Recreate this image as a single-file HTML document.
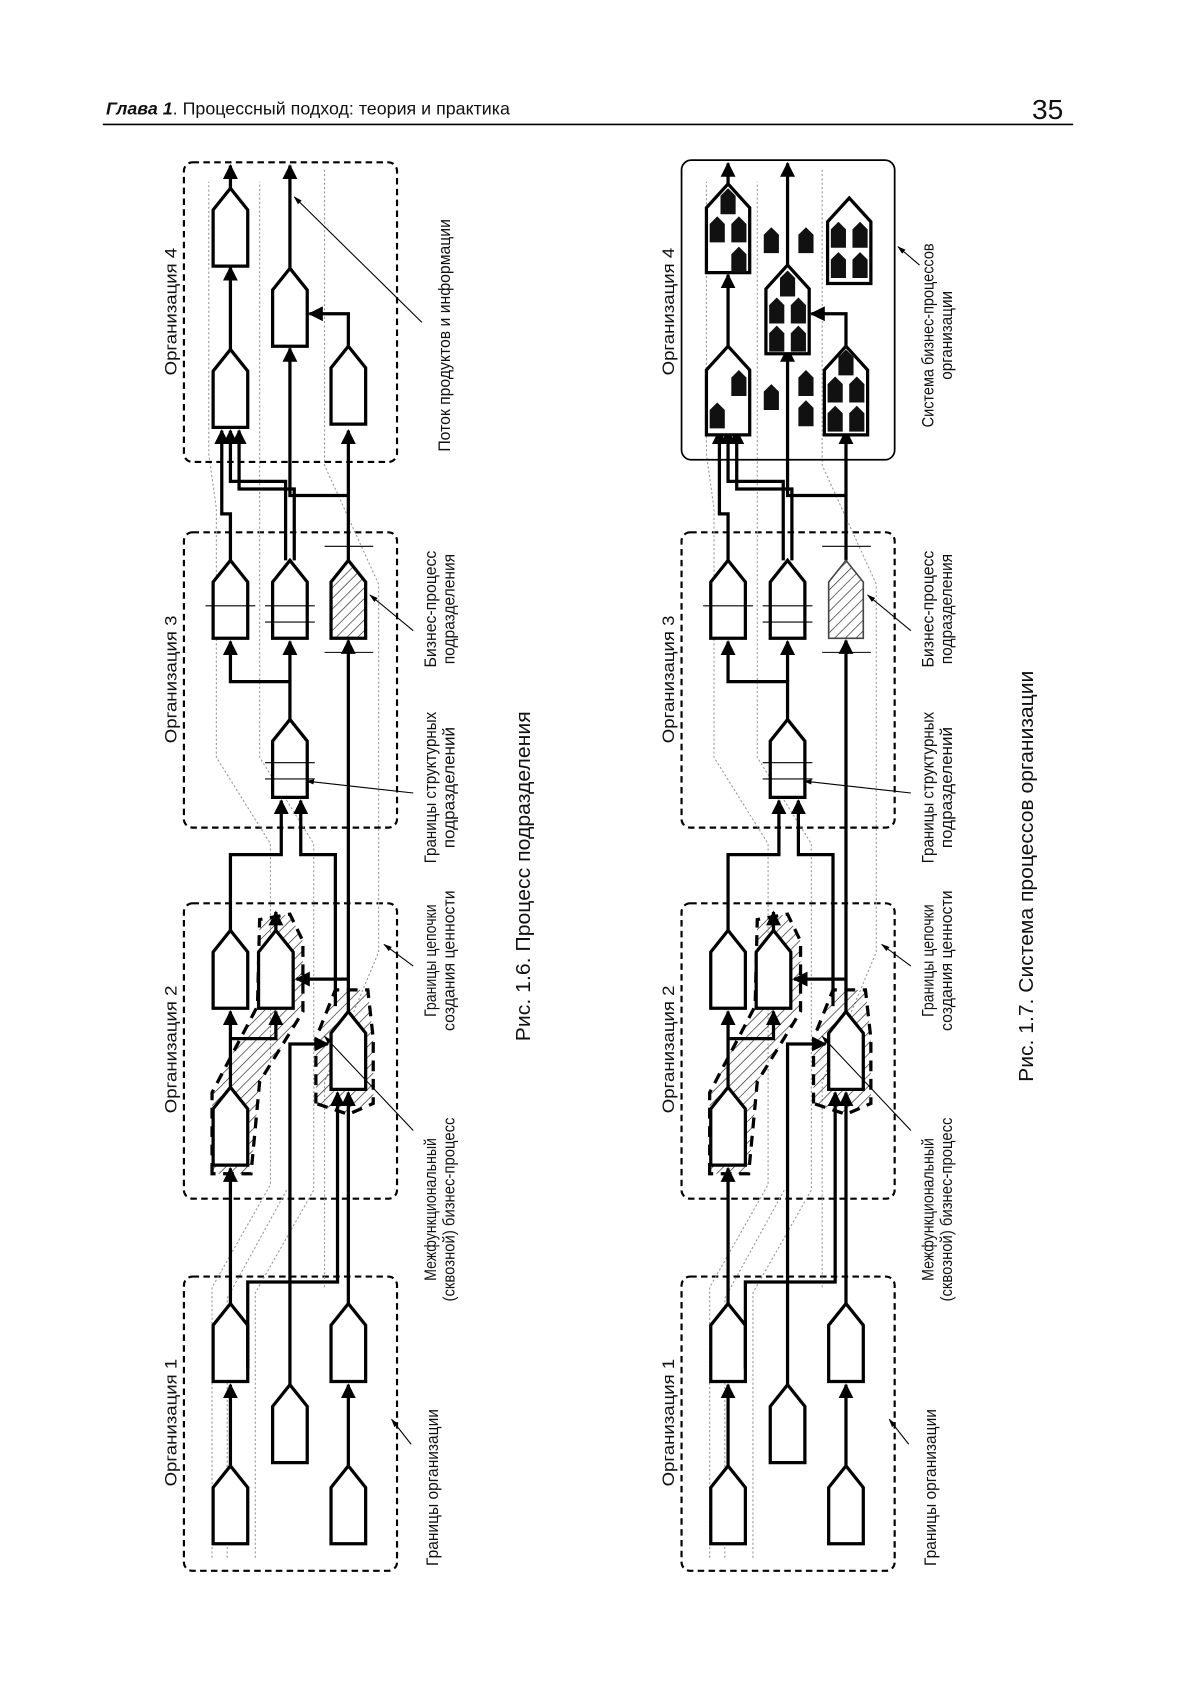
<!DOCTYPE html>
<html><head><meta charset="utf-8"><style>
html,body{margin:0;padding:0;background:#fff;}
svg{display:block;}
text{font-family:"Liberation Sans","Noto Sans CJK SC",sans-serif;fill:#111;}
</style></head><body>
<svg width="1190" height="1684" viewBox="0 0 1100 1556.6" xmlns="http://www.w3.org/2000/svg">
<defs>
<pattern id="h" width="7" height="7" patternUnits="userSpaceOnUse" patternTransform="rotate(45)">
<line x1="0" y1="0" x2="0" y2="7" stroke="#222" stroke-width="1.2"/></pattern>
<marker id="a" viewBox="0 0 10 10" refX="9" refY="5" markerWidth="4.6" markerHeight="4.6" orient="auto"><path d="M0,0L10,5L0,10Z" fill="#000"/></marker>
<marker id="s" viewBox="0 0 10 10" refX="9" refY="5" markerWidth="8" markerHeight="8" orient="auto"><path d="M0,2L10,5L0,8Z" fill="#000"/></marker>
<path id="p" d="M0,0L16,20L16,72L-16,72L-16,20Z" fill="#fff" stroke="#000" stroke-width="3" stroke-linejoin="miter"/>
<path id="ph" d="M0,0L16,20L16,72L-16,72L-16,20Z" fill="url(#h)" stroke="#000" stroke-width="3"/>
<path id="b" d="M0,0L7,7L7,24L-7,24L-7,7Z" fill="#111"/>
<g id="common">
 <g fill="none" stroke="#000" stroke-width="2" stroke-dasharray="6,4">
  <rect x="170" y="835" width="197" height="273" rx="8"/>
  <rect x="170" y="1180" width="197" height="272" rx="8"/>
  <rect x="170" y="492" width="197" height="273" rx="8"/>
 </g>
 <g fill="none" stroke="#999" stroke-width="1" stroke-dasharray="2,2">
  <polyline points="196,1440 196,1190 250,1095 250,780 200,700 200,470 193,420 193,168"/>
  <polyline points="236,1440 236,1195 290,1100 290,780 240,700 240,470 240,168"/>
  <polyline points="300,1190 300,1000 350,880 350,540 300,430 300,155"/>
  <polyline points="210,1440 210,1200 265,1100"/>
 </g>
 <g stroke="#000" stroke-width="3" stroke-dasharray="10,7" fill="url(#h)">
  <path d="M196,1085 L196,1010 L238,930 L240,850 L268,845 L280,870 L280,935 L240,1000 L232,1085 Z"/>
  <path d="M292,1020 L292,960 L310,915 L340,915 L345,960 L345,1020 L322,1030 Z"/>
 </g>
 <use href="#p" x="213" y="860"/><use href="#p" x="213" y="1005"/>
 <use href="#p" x="255" y="860"/><use href="#p" x="322" y="935"/>
 <use href="#p" x="213" y="1205"/><use href="#p" x="213" y="1355"/>
 <use href="#p" x="268" y="1280"/>
 <use href="#p" x="322" y="1205"/><use href="#p" x="322" y="1355"/>
 <use href="#p" x="213" y="518"/><use href="#p" x="268" y="518"/>
 <use href="#p" x="268" y="665"/>
 <g stroke="#000" stroke-width="1">
  <line x1="190" y1="560" x2="236" y2="560"/><line x1="245" y1="560" x2="291" y2="560"/><line x1="245" y1="575" x2="291" y2="575"/>
  <line x1="245" y1="705" x2="291" y2="705"/><line x1="245" y1="720" x2="291" y2="720"/>
  <line x1="300" y1="505" x2="345" y2="505"/><line x1="300" y1="603" x2="345" y2="603"/>
 </g>
 <g fill="none" stroke="#000" stroke-width="3">
  <polyline points="213,1355 213,1280" marker-end="url(#a)"/>
  <polyline points="322,1355 322,1280" marker-end="url(#a)"/>
  <polyline points="213,1205 213,1080" marker-end="url(#a)"/>
  <polyline points="229,1265 229,1185 312,1185 312,1010" marker-end="url(#a)"/>
  <polyline points="322,1205 322,1010" marker-end="url(#a)"/>
  <polyline points="268,1280 268,965 303,965" marker-end="url(#a)"/>
  <polyline points="213,1005 213,935" marker-end="url(#a)"/>
  <polyline points="213,960 255,960 255,935" marker-end="url(#a)"/>
  <polyline points="255,860 255,843" marker-end="url(#a)"/>
  <polyline points="322,935 322,592" marker-end="url(#a)"/>
  <polyline points="322,905 274,905" marker-end="url(#a)"/>
  <polyline points="213,860 213,790 260,790 260,740" marker-end="url(#a)"/>
  <polyline points="310,930 310,790 278,790 278,740" marker-end="url(#a)"/>
  <polyline points="268,665 268,630 213,630 213,593" marker-end="url(#a)"/>
  <polyline points="268,630 268,593" marker-end="url(#a)"/>
  <polyline points="213,518 213,475 205,475 205,398" marker-end="url(#a)"/>
  <polyline points="264,518 264,445 213,445 213,398" marker-end="url(#a)"/>
  <polyline points="272,518 272,452 221,452 221,398" marker-end="url(#a)"/>
  <polyline points="322,518 322,398" marker-end="url(#a)"/>
  <polyline points="322,458 268,458 268,322" marker-end="url(#a)"/>
 </g>
</g>
</defs>

<text x="98" y="106" font-size="16.5"><tspan font-style="italic" font-weight="bold">Глава 1</tspan>.  Процессный подход: теория и практика</text>
<text x="954" y="110" font-size="26">35</text>
<line x1="95" y1="115" x2="992" y2="115" stroke="#000" stroke-width="1.5"/>

<use href="#common"/>
<rect x="170" y="150" width="197" height="277" rx="8" fill="none" stroke="#000" stroke-width="2" stroke-dasharray="6,4"/>
<use href="#ph" x="322" y="518"/>
<use href="#p" x="213" y="174"/><use href="#p" x="213" y="323"/>
<use href="#p" x="268" y="248"/><use href="#p" x="322" y="320"/>
<g fill="none" stroke="#000" stroke-width="3">
 <polyline points="213,174 213,153" marker-end="url(#a)"/>
 <polyline points="213,323 213,247" marker-end="url(#a)"/>
 <polyline points="268,248 268,153" marker-end="url(#a)"/>
 <polyline points="322,320 322,290 286,290" marker-end="url(#a)"/>
</g>
<g stroke="#000" stroke-width="1" fill="none">
 <line x1="390" y1="298" x2="272" y2="182" marker-end="url(#s)"/>
 <line x1="382" y1="583" x2="342" y2="550" marker-end="url(#s)"/>
 <line x1="382" y1="733" x2="283" y2="722" marker-end="url(#s)"/>
 <line x1="382" y1="893" x2="355" y2="873" marker-end="url(#s)"/>
 <line x1="382" y1="1045" x2="300" y2="958" marker-end="url(#s)"/>
 <line x1="380" y1="1335" x2="362" y2="1312" marker-end="url(#s)"/>
</g>
<g font-size="15.5" text-anchor="middle">
 <text transform="translate(163,288) rotate(-90)" textLength="118" lengthAdjust="spacingAndGlyphs">Организация 4</text>
 <text transform="translate(163,628) rotate(-90)" textLength="118" lengthAdjust="spacingAndGlyphs">Организация 3</text>
 <text transform="translate(163,970) rotate(-90)" textLength="118" lengthAdjust="spacingAndGlyphs">Организация 2</text>
 <text transform="translate(163,1315) rotate(-90)" textLength="118" lengthAdjust="spacingAndGlyphs">Организация 1</text>
 <text transform="translate(416,310) rotate(-90)" textLength="215" lengthAdjust="spacingAndGlyphs">Поток продуктов и информации</text>
 <text transform="translate(403,563) rotate(-90)" textLength="108" lengthAdjust="spacingAndGlyphs">Бизнес-процесс</text>
 <text transform="translate(420,563) rotate(-90)" textLength="102" lengthAdjust="spacingAndGlyphs">подразделения</text>
 <text transform="translate(403,728) rotate(-90)" textLength="140" lengthAdjust="spacingAndGlyphs">Границы структурных</text>
 <text transform="translate(420,728) rotate(-90)" textLength="112" lengthAdjust="spacingAndGlyphs">подразделений</text>
 <text transform="translate(403,888) rotate(-90)" textLength="104" lengthAdjust="spacingAndGlyphs">Границы цепочки</text>
 <text transform="translate(420,888) rotate(-90)" textLength="130" lengthAdjust="spacingAndGlyphs">создания ценности</text>
 <text transform="translate(403,1118) rotate(-90)" textLength="132" lengthAdjust="spacingAndGlyphs">Межфункциональный</text>
 <text transform="translate(420,1118) rotate(-90)" textLength="170" lengthAdjust="spacingAndGlyphs">(сквозной) бизнес-процесс</text>
 <text transform="translate(405,1375) rotate(-90)" textLength="145" lengthAdjust="spacingAndGlyphs">Границы организации</text>
 <text transform="translate(490,810) rotate(-90)" font-size="19" textLength="305" lengthAdjust="spacingAndGlyphs">Рис. 1.6. Процесс подразделения</text>
</g>

<g transform="translate(460,0)">
<use href="#common"/>
<path d="M322,518L338,538L338,590L306,590L306,538Z" fill="url(#h)" stroke="#444" stroke-width="1.5"/>
<rect x="170" y="148" width="197" height="277" rx="9" fill="none" stroke="#000" stroke-width="1.6"/>
<g fill="#fff" stroke="#000" stroke-width="3">
 <path d="M213,170L233,192L233,252L193,252L193,192Z"/>
 <path d="M213,320L233,342L233,402L193,402L193,342Z"/>
 <path d="M268,245L288,267L288,327L248,327L248,267Z"/>
 <path d="M322,320L342,342L342,402L302,402L302,342Z"/>
 <path d="M325,183L345,205L345,262L305,262L305,205Z"/>
</g>
<g>
 <use href="#b" x="213" y="174"/><use href="#b" x="203" y="200"/><use href="#b" x="223" y="200"/><use href="#b" x="223" y="228"/>
 <use href="#b" x="223" y="342"/><use href="#b" x="203" y="372"/>
 <use href="#b" x="268" y="250"/><use href="#b" x="258" y="275"/><use href="#b" x="278" y="275"/><use href="#b" x="258" y="301"/><use href="#b" x="278" y="301"/>
 <use href="#b" x="322" y="323"/><use href="#b" x="312" y="348"/><use href="#b" x="332" y="348"/><use href="#b" x="312" y="375"/><use href="#b" x="332" y="375"/>
 <use href="#b" x="315" y="205"/><use href="#b" x="335" y="205"/><use href="#b" x="315" y="233"/><use href="#b" x="335" y="233"/>
 <use href="#b" x="253" y="210"/><use href="#b" x="285" y="210"/>
 <use href="#b" x="253" y="355"/><use href="#b" x="285" y="342"/><use href="#b" x="285" y="370"/>
</g>
<g fill="none" stroke="#000" stroke-width="3">
 <polyline points="213,170 213,151" marker-end="url(#a)"/>
 <polyline points="213,320 213,254" marker-end="url(#a)"/>
 <polyline points="268,245 268,151" marker-end="url(#a)"/>
 <polyline points="322,320 322,290 290,290" marker-end="url(#a)"/>
</g>
<g stroke="#000" stroke-width="1" fill="none">
 <line x1="390" y1="245" x2="370" y2="228" marker-end="url(#s)"/>
 <line x1="382" y1="583" x2="342" y2="550" marker-end="url(#s)"/>
 <line x1="382" y1="733" x2="283" y2="722" marker-end="url(#s)"/>
 <line x1="382" y1="893" x2="355" y2="873" marker-end="url(#s)"/>
 <line x1="382" y1="1045" x2="300" y2="958" marker-end="url(#s)"/>
 <line x1="380" y1="1335" x2="362" y2="1312" marker-end="url(#s)"/>
</g>
<g font-size="15.5" text-anchor="middle">
 <text transform="translate(163,288) rotate(-90)" textLength="118" lengthAdjust="spacingAndGlyphs">Организация 4</text>
 <text transform="translate(163,628) rotate(-90)" textLength="118" lengthAdjust="spacingAndGlyphs">Организация 3</text>
 <text transform="translate(163,970) rotate(-90)" textLength="118" lengthAdjust="spacingAndGlyphs">Организация 2</text>
 <text transform="translate(163,1315) rotate(-90)" textLength="118" lengthAdjust="spacingAndGlyphs">Организация 1</text>
 <text transform="translate(403,310) rotate(-90)" textLength="170" lengthAdjust="spacingAndGlyphs">Система бизнес-процессов</text>
 <text transform="translate(420,310) rotate(-90)" textLength="82" lengthAdjust="spacingAndGlyphs">организации</text>
 <text transform="translate(403,563) rotate(-90)" textLength="108" lengthAdjust="spacingAndGlyphs">Бизнес-процесс</text>
 <text transform="translate(420,563) rotate(-90)" textLength="102" lengthAdjust="spacingAndGlyphs">подразделения</text>
 <text transform="translate(403,728) rotate(-90)" textLength="140" lengthAdjust="spacingAndGlyphs">Границы структурных</text>
 <text transform="translate(420,728) rotate(-90)" textLength="112" lengthAdjust="spacingAndGlyphs">подразделений</text>
 <text transform="translate(403,888) rotate(-90)" textLength="104" lengthAdjust="spacingAndGlyphs">Границы цепочки</text>
 <text transform="translate(420,888) rotate(-90)" textLength="130" lengthAdjust="spacingAndGlyphs">создания ценности</text>
 <text transform="translate(403,1118) rotate(-90)" textLength="132" lengthAdjust="spacingAndGlyphs">Межфункциональный</text>
 <text transform="translate(420,1118) rotate(-90)" textLength="170" lengthAdjust="spacingAndGlyphs">(сквозной) бизнес-процесс</text>
 <text transform="translate(405,1375) rotate(-90)" textLength="145" lengthAdjust="spacingAndGlyphs">Границы организации</text>
 <text transform="translate(495,810) rotate(-90)" font-size="19" textLength="380" lengthAdjust="spacingAndGlyphs">Рис. 1.7. Система процессов организации</text>
</g>
</g>
</svg>
</body></html>
